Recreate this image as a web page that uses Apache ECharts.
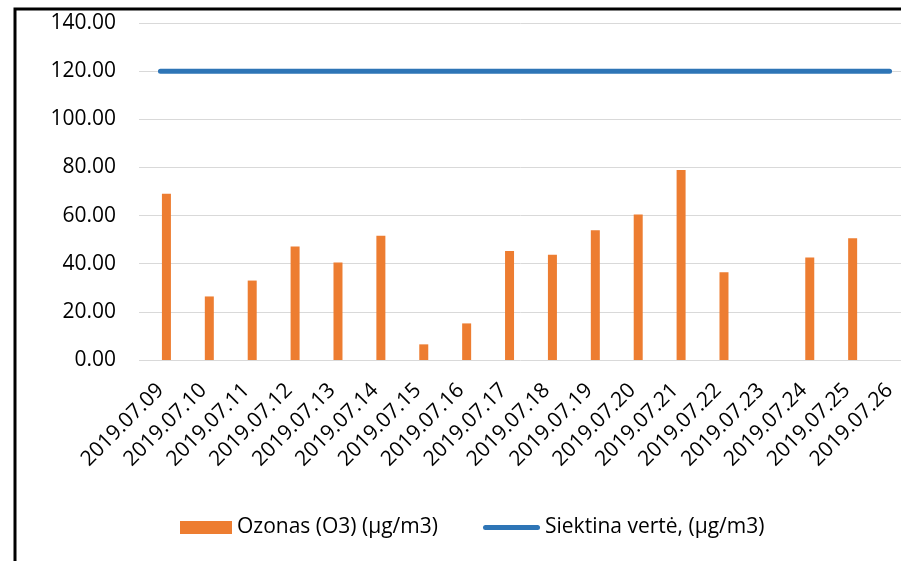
<!DOCTYPE html>
<html>
<head>
<meta charset="utf-8">
<script src="https://cdn.jsdelivr.net/npm/echarts@6/dist/echarts.min.js"></script>
<style>
  html, body { margin: 0; padding: 0; background: #fff; }
  #chart { width: 901px; height: 561px; }
</style>
</head>
<body>
<div id="chart"></div>
<script>
var dates = ['2019.07.09', '2019.07.10', '2019.07.11', '2019.07.12', '2019.07.13', '2019.07.14',
	'2019.07.15', '2019.07.16', '2019.07.17', '2019.07.18', '2019.07.19', '2019.07.20',
	'2019.07.21', '2019.07.22', '2019.07.23', '2019.07.24', '2019.07.25', '2019.07.26'];
var ozonas = [69.1, 26.4, 33.0, 47.1, 40.5, 51.6, 6.5, 15.2, 45.3, 43.7, 53.9, 60.4,
	78.9, 36.5, null, 42.6, 50.6, null];
var siektina = [120, 120, 120, 120, 120, 120, 120, 120, 120, 120, 120, 120,
	120, 120, 120, 120, 120, 120];
var nameOzonas = 'Ozonas (O3) (µg/m3)';
var nameSiektina = 'Siektina vertė, (µg/m3)';

var font = '"Open Sans", "Noto Sans", sans-serif';
var myChart = echarts.init(document.getElementById('chart'), null, { renderer: 'canvas' });

// legend icon for the line series: a thick line with round ends
var lineIcon = 'path://M2.5,0 L54.5,0 A2.5,2.5 0 0 1 54.5,5 L2.5,5 A2.5,2.5 0 0 1 2.5,0 Z';

var option = {
	animation: false,
	backgroundColor: '#fff',
	textStyle: { fontFamily: font },
	// plot area runs past the right edge of the picture
	grid: { left: 139, width: 772, top: 23, bottom: 201, containLabel: false, outerBoundsMode: 'none' },
	graphic: [{
		type: 'rect',
		shape: { x: 15, y: 9, width: 1000, height: 1000 },
		style: { fill: 'none', stroke: '#000', lineWidth: 3 },
		z: 100
	}],
	legend: [{
		data: [{ name: nameOzonas, icon: 'rect' }],
		left: 180, top: 517, padding: 0,
		itemWidth: 52, itemHeight: 13, itemGap: 5,
		textStyle: { fontFamily: font, fontSize: 21, color: '#000' }
	}, {
		data: [{ name: nameSiektina, icon: lineIcon }],
		left: 483, top: 517, padding: 0,
		itemWidth: 57, itemHeight: 5,
		textStyle: { fontFamily: font, fontSize: 21, color: '#000' }
	}],
	xAxis: {
		type: 'category',
		data: dates,
		boundaryGap: true,
		axisLine: { show: false },
		axisTick: { show: false },
		axisLabel: {
			interval: 0,
			rotate: 45,
			margin: 27,
			fontFamily: font,
			fontSize: 21,
			color: '#000'
		}
	},
	yAxis: {
		type: 'value',
		min: 0,
		max: 140,
		interval: 20,
		axisLine: { show: false },
		axisTick: { show: false },
		splitLine: { lineStyle: { color: '#d9d9d9', width: 1 } },
		axisLabel: {
			margin: 23,
			fontFamily: font,
			fontSize: 21,
			color: '#000',
			formatter: function (v) { return v.toFixed(2); }
		}
	},
	series: [{
		// empty slot so the bars sit right of the category centre
		name: '_',
		type: 'bar',
		data: [],
		barWidth: 9,
		barGap: '33%'
	}, {
		name: nameOzonas,
		type: 'bar',
		data: ozonas,
		barWidth: 9,
		barGap: '33%',
		itemStyle: { color: '#ED7D31' }
	}, {
		name: nameSiektina,
		type: 'line',
		data: siektina,
		symbol: 'none',
		lineStyle: { color: '#2E75B6', width: 5, cap: 'round' },
		itemStyle: { color: '#2E75B6' }
	}]
};
myChart.setOption(option);
</script>
</body>
</html>
